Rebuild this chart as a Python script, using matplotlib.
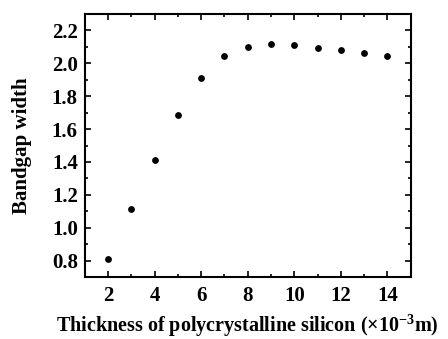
import matplotlib
matplotlib.use("Agg")
import matplotlib.pyplot as plt
from matplotlib.ticker import MultipleLocator

thickness = [2, 3, 4, 5, 6, 7, 8, 9, 10, 11, 12, 13, 14]
bandgap = [0.81, 1.115, 1.41, 1.685, 1.908, 2.047, 2.102, 2.115, 2.109, 2.095, 2.079, 2.062, 2.044]

plt.rcParams['font.family'] = ['Liberation Serif', 'DejaVu Serif']
plt.rcParams['font.weight'] = 'bold'
plt.rcParams['mathtext.fontset'] = 'custom'
plt.rcParams['mathtext.rm'] = 'Liberation Serif:bold'
plt.rcParams['mathtext.bf'] = 'Liberation Serif:bold'
plt.rcParams['mathtext.default'] = 'bf'

fig = plt.figure(figsize=(4.48, 3.39), dpi=100)
ax = fig.add_axes([84.7/448, 1 - 277/339, (410.7-84.7)/448, (277-14)/339])
ax.scatter(thickness, bandgap, s=24, color='black', linewidths=0, zorder=3)
ax.set_xlim(1, 15)
ax.set_ylim(0.7, 2.3)
ax.xaxis.set_major_locator(MultipleLocator(2))
ax.xaxis.set_minor_locator(MultipleLocator(1))
ax.yaxis.set_major_locator(MultipleLocator(0.2))
ax.yaxis.set_minor_locator(MultipleLocator(0.1))
ax.tick_params(which='both', direction='in', top=True, right=True, width=1.2)
ax.tick_params(which='major', length=4.5, labelsize=15, pad=5)
ax.tick_params(axis='x', which='major', pad=6.5)
ax.tick_params(which='minor', length=2.5)
for lab in ax.get_xticklabels() + ax.get_yticklabels():
    lab.set_fontweight('bold')
for s in ax.spines.values():
    s.set_linewidth(1.5)
ax.set_xlabel('Thickness of polycrystalline silicon (×10$^{-3}$m)', fontsize=14.5, fontweight='bold', labelpad=5)
ax.set_ylabel('Bandgap width', fontsize=15, fontweight='bold', labelpad=14)
fig.savefig('out.png', dpi=100)
